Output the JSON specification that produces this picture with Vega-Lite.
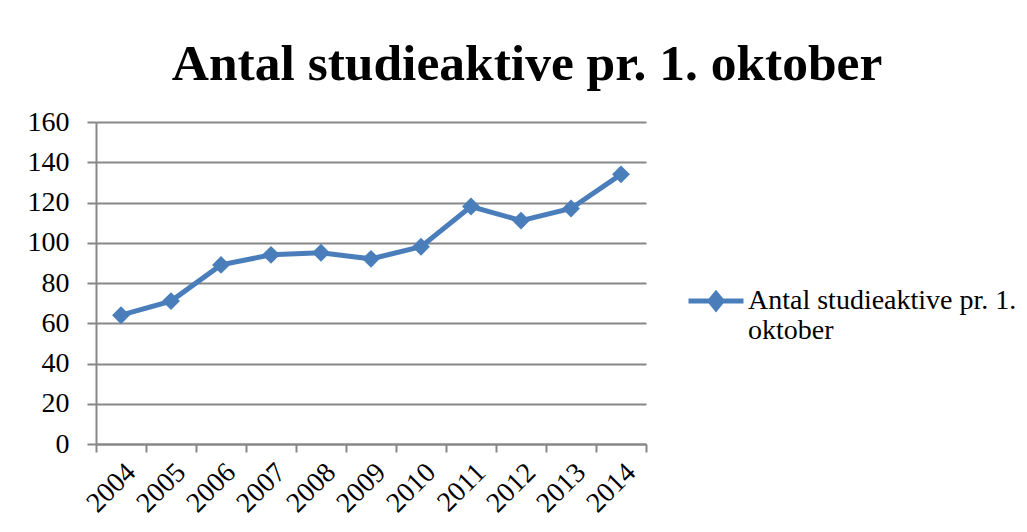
{
  "$schema": "https://vega.github.io/schema/vega-lite/v6.json",
  "width": 550,
  "height": 322,
  "autosize": {"type": "none"},
  "padding": {"left": 96, "top": 122, "right": 381, "bottom": 88},
  "background": "white",
  "title": {
    "text": "Antal studieaktive pr. 1. oktober",
    "font": "Liberation Serif",
    "fontSize": 51.5,
    "fontWeight": "bold",
    "color": "black",
    "anchor": "middle",
    "dx": 156,
    "offset": 18
  },
  "data": {
    "values": [
      {"year": "2004", "value": 64, "serie": "Antal studieaktive pr. 1. oktober"},
      {"year": "2005", "value": 71, "serie": "Antal studieaktive pr. 1. oktober"},
      {"year": "2006", "value": 89, "serie": "Antal studieaktive pr. 1. oktober"},
      {"year": "2007", "value": 94, "serie": "Antal studieaktive pr. 1. oktober"},
      {"year": "2008", "value": 95, "serie": "Antal studieaktive pr. 1. oktober"},
      {"year": "2009", "value": 92, "serie": "Antal studieaktive pr. 1. oktober"},
      {"year": "2010", "value": 98, "serie": "Antal studieaktive pr. 1. oktober"},
      {"year": "2011", "value": 118, "serie": "Antal studieaktive pr. 1. oktober"},
      {"year": "2012", "value": 111, "serie": "Antal studieaktive pr. 1. oktober"},
      {"year": "2013", "value": 117, "serie": "Antal studieaktive pr. 1. oktober"},
      {"year": "2014", "value": 134, "serie": "Antal studieaktive pr. 1. oktober"}
    ]
  },
  "mark": {
    "type": "line",
    "strokeWidth": 5,
    "point": {"shape": "diamond", "size": 320, "filled": true, "color": "#4A7EBB", "opacity": 1}
  },
  "encoding": {
    "x": {
      "field": "year",
      "type": "ordinal",
      "title": null,
      "scale": {"type": "band", "paddingInner": 0, "paddingOuter": 0},
      "axis": {
        "tickBand": "extent",
        "labelAngle": -45,
        "labelFont": "Liberation Serif",
        "labelFontSize": 28,
        "labelColor": "black",
        "labelPadding": 6,
        "tickSize": 8,
        "tickWidth": 2,
        "tickColor": "#878787",
        "domainColor": "#878787",
        "domainWidth": 2,
        "grid": false
      }
    },
    "y": {
      "field": "value",
      "type": "quantitative",
      "title": null,
      "scale": {"domain": [0, 160], "nice": false},
      "axis": {
        "values": [0, 20, 40, 60, 80, 100, 120, 140, 160],
        "labelFont": "Liberation Serif",
        "labelFontSize": 28,
        "labelColor": "black",
        "labelPadding": 18,
        "tickSize": 9,
        "tickWidth": 2,
        "tickColor": "#878787",
        "domainColor": "#878787",
        "domainWidth": 2,
        "grid": true,
        "gridColor": "#878787",
        "gridWidth": 2,
        "gridOpacity": 1
      }
    },
    "color": {
      "field": "serie",
      "type": "nominal",
      "scale": {"range": ["#4A7EBB"]},
      "legend": {
        "title": null,
        "orient": "none",
        "legendX": 590,
        "legendY": 157,
        "padding": 0,
        "symbolType": "M-1,-0.29H1M-0.22,-0.29L0,-0.56L0.22,-0.29L0,-0.02Z",
        "symbolSize": 3025,
        "symbolStrokeWidth": 5,
        "symbolStrokeColor": "#4A7EBB",
        "symbolFillColor": "#4A7EBB",
        "symbolOpacity": 1,
        "labelFont": "Liberation Serif",
        "labelFontSize": 28,
        "labelColor": "black",
        "labelBaseline": "alphabetic",
        "labelLineHeight": 33,
        "labelOffset": 2,
        "labelLimit": 400,
        "labelExpr": "['Antal studieaktive pr. 1.', 'oktober']"
      }
    }
  },
  "config": {
    "view": {"stroke": null}
  }
}
